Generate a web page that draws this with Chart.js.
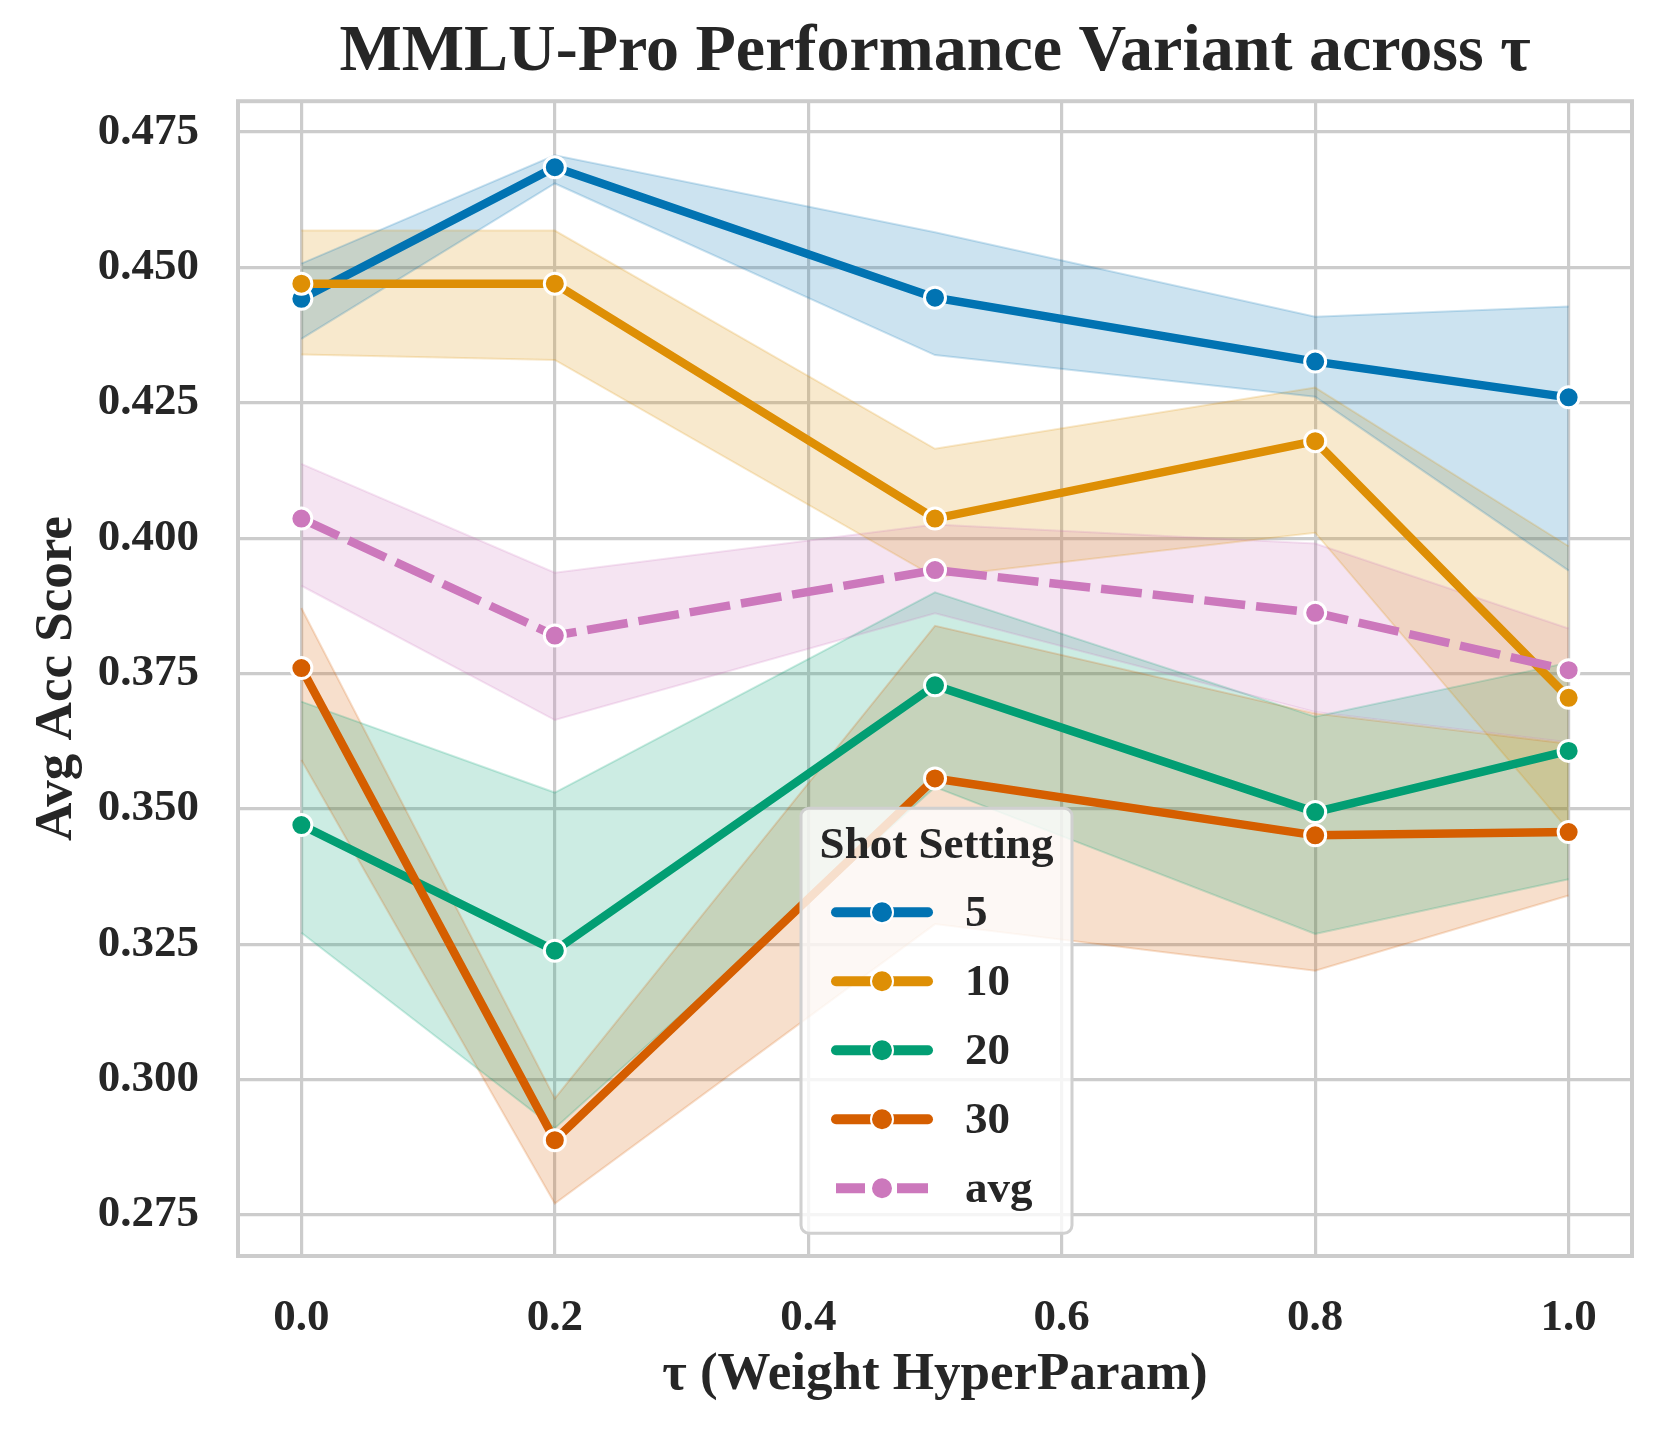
<!DOCTYPE html>
<html>
<head>
<meta charset="utf-8">
<script src="https://cdn.jsdelivr.net/npm/chart.js@4.4.1/dist/chart.umd.min.js"></script>
<style>
  html, body { margin: 0; padding: 0; background: #fff; }
  canvas { display: block; }
</style>
</head>
<body>
<canvas id="chart" width="1665" height="1443"></canvas>
<script>
// x positions (tau) and tick values
const tauValues = [0.0, 0.2, 0.5, 0.8, 1.0];
const xTicks = [0.0, 0.2, 0.4, 0.6, 0.8, 1.0];
const yTicks = [0.275, 0.300, 0.325, 0.350, 0.375, 0.400, 0.425, 0.450, 0.475];
const shotLabels = ['5', '10', '20', '30', 'avg'];

// mean acc per shot setting
const shot5   = [0.4442, 0.4685, 0.4444, 0.4326, 0.4260];
const shot10  = [0.4470, 0.4470, 0.4036, 0.4179, 0.3705];
const shot20  = [0.3470, 0.3238, 0.3728, 0.3494, 0.3607];
const shot30  = [0.3760, 0.2888, 0.3556, 0.3451, 0.3457];
const shotAvg = [0.4036, 0.3820, 0.3941, 0.3862, 0.3756];

// confidence bands
const shot5Lo   = [0.4368, 0.4655, 0.4338, 0.4261, 0.3940];
const shot5Hi   = [0.4507, 0.4707, 0.4565, 0.4409, 0.4428];
const shot10Lo  = [0.4339, 0.4329, 0.3928, 0.4010, 0.3460];
const shot10Hi  = [0.4568, 0.4568, 0.4165, 0.4278, 0.3985];
const shot20Lo  = [0.3271, 0.2910, 0.3540, 0.3269, 0.3370];
const shot20Hi  = [0.3698, 0.3530, 0.3900, 0.3670, 0.3770];
const shot30Lo  = [0.3590, 0.2771, 0.3287, 0.3201, 0.3340];
const shot30Hi  = [0.3871, 0.2965, 0.3838, 0.3676, 0.3620];
const shotAvgLo = [0.3912, 0.3664, 0.3861, 0.3679, 0.3623];
const shotAvgHi = [0.4137, 0.3936, 0.4025, 0.3990, 0.3833];

const FONT = "'Liberation Serif', 'DejaVu Serif', serif";
const TEXT = '#262626';
const colors = [[1, 115, 178], [222, 143, 5], [2, 158, 115], [213, 94, 0], [204, 120, 188]];
const rgba = (c, a) => `rgba(${c[0]},${c[1]},${c[2]},${a})`;
const pts = arr => arr.map((v, i) => ({ x: tauValues[i], y: v }));

const series = [
    { mean: shot5, lo: shot5Lo, hi: shot5Hi },
    { mean: shot10, lo: shot10Lo, hi: shot10Hi },
    { mean: shot20, lo: shot20Lo, hi: shot20Hi },
    { mean: shot30, lo: shot30Lo, hi: shot30Hi },
    { mean: shotAvg, lo: shotAvgLo, hi: shotAvgHi, dash: [41, 11] }
];

const datasets = [];
// bands first (hi fills down to lo)
series.forEach((s, i) => {
    datasets.push({
        label: shotLabels[i] + ' hi', data: pts(s.hi),
        borderColor: rgba(colors[i], 0.2), borderWidth: 2, pointRadius: 0,
        backgroundColor: rgba(colors[i], 0.2), fill: '+1', order: 20 + i
    });
    datasets.push({
        label: shotLabels[i] + ' lo', data: pts(s.lo),
        borderColor: rgba(colors[i], 0.2), borderWidth: 2, pointRadius: 0,
        fill: false, order: 20 + i
    });
});
// mean lines
series.forEach((s, i) => {
    datasets.push({
        label: shotLabels[i], data: pts(s.mean),
        borderColor: rgba(colors[i], 1), backgroundColor: rgba(colors[i], 1),
        borderWidth: 8.5, borderDash: s.dash || [], borderCapStyle: 'butt',
        pointRadius: 10.5, pointBorderColor: '#ffffff', pointBorderWidth: 3,
        fill: false, order: 10 - i
    });
});

// grey frame round the plot
const frame = {
    id: 'frame',
    afterDatasetsDraw(chart) {
        const { ctx, chartArea: a } = chart;
        ctx.save();
        ctx.strokeStyle = '#cccccc';
        ctx.lineWidth = 4;
        ctx.strokeRect(a.left, a.top, a.right - a.left, a.bottom - a.top);
        ctx.restore();
    }
};

// legend box inside the plot (matplotlib style)
const legendBox = {
    id: 'legendBox',
    afterDraw(chart) {
        const { ctx, chartArea: a } = chart;
        const x0 = a.left + 563, y0 = a.top + 707, w = 271, h = 425;
        ctx.save();
        ctx.fillStyle = 'rgba(255,255,255,0.8)';
        ctx.strokeStyle = '#d0d0d0';
        ctx.lineWidth = 3;
        ctx.beginPath();
        ctx.roundRect(x0, y0, w, h, 8);
        ctx.fill();
        ctx.stroke();

        ctx.fillStyle = TEXT;
        ctx.textBaseline = 'middle';
        ctx.textAlign = 'center';
        ctx.font = `bold 45px ${FONT}`;
        ctx.fillText('Shot Setting', x0 + w / 2, y0 + 38);

        ctx.textAlign = 'left';
        ctx.font = `bold 45px ${FONT}`;
        shotLabels.forEach((lab, i) => {
            const y = y0 + 104 + i * 69;
            const c = rgba(colors[i], 1);
            ctx.strokeStyle = c;
            ctx.lineWidth = 10;
            if (lab === 'avg') {
                ctx.lineCap = 'butt';
                ctx.beginPath();
                ctx.moveTo(x0 + 35, y); ctx.lineTo(x0 + 64, y);
                ctx.moveTo(x0 + 96, y); ctx.lineTo(x0 + 127, y);
                ctx.stroke();
            } else {
                ctx.lineCap = 'round';
                ctx.beginPath();
                ctx.moveTo(x0 + 35, y); ctx.lineTo(x0 + 127, y);
                ctx.stroke();
            }
            ctx.beginPath();
            ctx.arc(x0 + 81, y, 11, 0, Math.PI * 2);
            ctx.fillStyle = c;
            ctx.fill();
            ctx.strokeStyle = '#ffffff';
            ctx.lineWidth = 2;
            ctx.stroke();
            ctx.fillStyle = TEXT;
            ctx.fillText(lab, x0 + 164, y + 2);
        });
        ctx.restore();
    }
};

new Chart(document.getElementById('chart').getContext('2d'), {
    type: 'line',
    data: { datasets },
    options: {
        responsive: false,
        devicePixelRatio: 1,
        animation: false,
        layout: { autoPadding: false, padding: { left: 0, right: 33, top: 0, bottom: 0 } },
        plugins: {
            legend: { display: false },
            tooltip: { enabled: false },
            filler: { drawTime: 'beforeDatasetsDraw' },
            title: {
                display: true,
                text: 'MMLU-Pro Performance Variant across τ',
                fullSize: false,
                color: TEXT,
                font: { family: FONT, size: 66, weight: 'bold' },
                padding: { top: 13, bottom: 9 }
            }
        },
        elements: { line: { tension: 0 } },
        scales: {
            x: {
                type: 'linear', min: -0.05, max: 1.05,
                afterBuildTicks: sc => { sc.ticks = xTicks.map(v => ({ value: v })); },
                afterFit: sc => { sc.height = 187; },
                ticks: {
                    color: TEXT, padding: 35, maxRotation: 0, autoSkip: false,
                    font: { family: FONT, size: 45, weight: 'bold' },
                    callback: v => v.toFixed(1)
                },
                grid: { color: '#cccccc', lineWidth: 3.2, drawTicks: false },
                border: { display: false },
                title: {
                    display: true, text: 'τ (Weight HyperParam)', color: TEXT,
                    font: { family: FONT, size: 53, weight: 'bold' },
                    padding: { top: 0, bottom: 36 }
                }
            },
            y: {
                type: 'linear', min: 0.2674, max: 0.4807,
                afterBuildTicks: sc => { sc.ticks = yTicks.map(v => ({ value: v })); },
                afterFit: sc => { sc.width = 238; },
                ticks: {
                    color: TEXT, padding: 39, autoSkip: false,
                    font: { family: FONT, size: 45, weight: 'bold' },
                    callback: v => v.toFixed(3)
                },
                grid: { color: '#cccccc', lineWidth: 3.2, drawTicks: false },
                border: { display: false },
                title: {
                    display: true, text: 'Avg Acc Score', color: TEXT,
                    font: { family: FONT, size: 53, weight: 'bold' },
                    padding: { top: 26, bottom: 0 }
                }
            }
        }
    },
    plugins: [frame, legendBox]
});
</script>
</body>
</html>
